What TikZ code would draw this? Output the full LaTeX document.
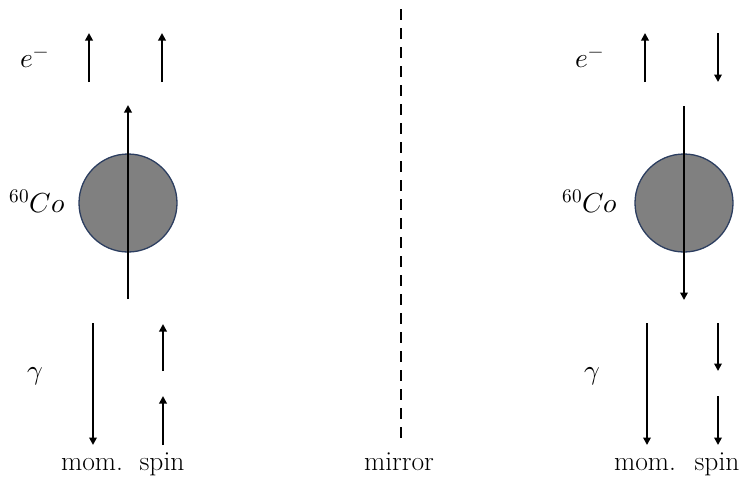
\documentclass[tikz,border=0pt]{standalone}
\usepackage{fontspec}
\usepackage{unicode-math}
\setmathfont{Latin Modern Math}
\usetikzlibrary{arrows.meta}
\definecolor{rimblue}{RGB}{44,62,96}
\tikzset{
  vec/.style={line width=1.8pt,-{Triangle[length=7.5pt,width=7.5pt]}},
  nucleus/.style={circle,draw=rimblue,line width=1.3pt,fill={rgb,255:red,128;green,128;blue,128},minimum size=98pt,inner sep=0pt},
  lbl/.style={font=\fontsize{27.5}{32}\selectfont,inner sep=0pt,anchor=base},
  mirrorline/.style={line width=2.5pt,dash pattern=on 10.7pt off 8.3pt}
}
\begin{document}
\begin{tikzpicture}[x=1pt,y=-1pt]
\useasboundingbox (0,0) rectangle (742,477);
% ---------- left side ----------
\node[lbl] (eL) at (34.5,67) {$e^-$};
\node[lbl] (coL) at (37.5,212) {$^{60}Co$};
\node[lbl] (gL) at (35.5,379) {$\gamma$};
\node[nucleus] (nL) at (128,203) {};
\node[lbl] (momL) at (92,470) {mom.};
\node[lbl] (spinL) at (162,470) {spin};
\coordinate (a1s) at (89,82);  \coordinate (a1e) at (89,33);
\coordinate (a2s) at (162,82); \coordinate (a2e) at (162,33);
\coordinate (bLs) at (128,299); \coordinate (bLe) at (128,105);
\coordinate (g1s) at (93,323); \coordinate (g1e) at (93,445);
\coordinate (g2s) at (163,371); \coordinate (g2e) at (163,324);
\coordinate (g3s) at (163,445); \coordinate (g3e) at (163,396);
\draw[vec] (a1s) -- (a1e);
\draw[vec] (a2s) -- (a2e);
\draw[vec] (bLs) -- (bLe);
\draw[vec] (g1s) -- (g1e);
\draw[vec] (g2s) -- (g2e);
\draw[vec] (g3s) -- (g3e);
% ---------- mirror ----------
\coordinate (mt) at (401,9);
\coordinate (mb) at (401,442);
\draw[mirrorline] (mt) -- (mb);
\node[lbl] (mir) at (399,470) {mirror};
% ---------- right side ----------
\node[lbl] (eR) at (590,67) {$e^-$};
\node[lbl] (coR) at (590,212) {$^{60}Co$};
\node[lbl] (gR) at (592,379) {$\gamma$};
\node[nucleus] (nR) at (684,203) {};
\node[lbl] (momR) at (645,470) {mom.};
\node[lbl] (spinR) at (717,470) {spin};
\coordinate (r1s) at (645,82);  \coordinate (r1e) at (645,33);
\coordinate (r2s) at (718,33);  \coordinate (r2e) at (718,82);
\coordinate (bRs) at (684,106); \coordinate (bRe) at (684,300);
\coordinate (h1s) at (647,323); \coordinate (h1e) at (647,445);
\coordinate (h2s) at (718,323); \coordinate (h2e) at (718,371);
\coordinate (h3s) at (718,396); \coordinate (h3e) at (718,445);
\draw[vec] (r1s) -- (r1e);
\draw[vec] (r2s) -- (r2e);
\draw[vec] (bRs) -- (bRe);
\draw[vec] (h1s) -- (h1e);
\draw[vec] (h2s) -- (h2e);
\draw[vec] (h3s) -- (h3e);
\end{tikzpicture}
\end{document}
